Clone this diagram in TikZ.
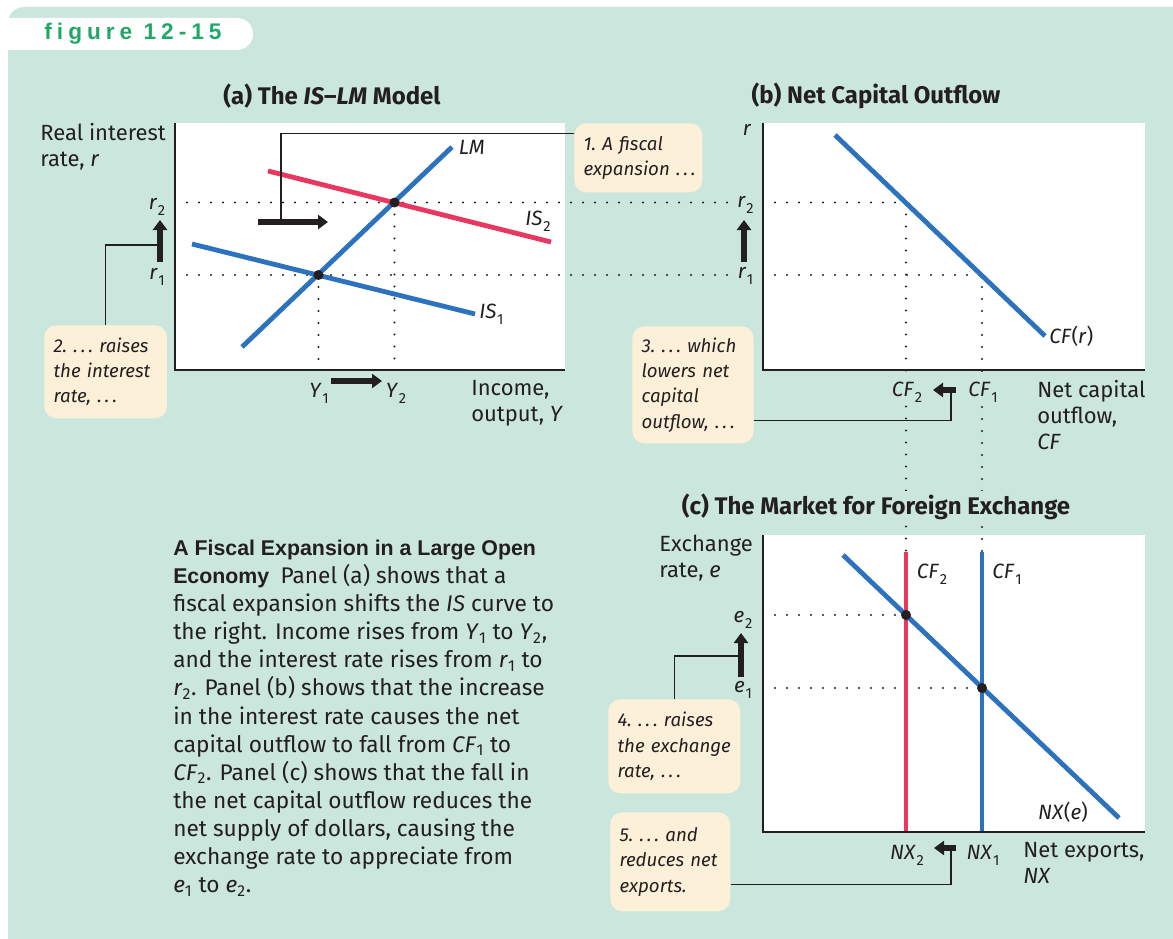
\documentclass[tikz,border=0pt]{standalone}
\usepackage{fontspec}
\setmainfont{Fira Sans}
\newfontfamily\headfont{Liberation Sans}
\newfontfamily\tagfont[LetterSpace=22]{Liberation Sans}
\usetikzlibrary{arrows.meta, positioning}
\definecolor{mintbg}{RGB}{203, 230, 221}
\definecolor{creamfill}{RGB}{253, 240, 217}
\definecolor{curveblue}{RGB}{45, 114, 190}
\definecolor{curvered}{RGB}{232, 55, 96}
\definecolor{taggreen}{RGB}{33, 168, 104}
\definecolor{inkgray}{RGB}{35, 31, 32}
\newcommand{\sublbl}[2]{\textit{#1}\raisebox{-4.5pt}{\kern0.5pt\fontsize{11}{11}\selectfont #2}}

\begin{document}
\begin{tikzpicture}[
        x=0.75pt, y=-0.75pt,
        plotarea/.style={fill=white},
        axisline/.style={draw=inkgray, line width=1.4pt},
        bluecurve/.style={draw=curveblue, line width=3.6pt},
        redcurve/.style={draw=curvered, line width=3.6pt},
        guide/.style={draw=inkgray, line width=1.7pt, line cap=round, dash pattern=on 0pt off 9pt},
        leader/.style={draw=inkgray, line width=0.9pt},
        shiftarrow/.style={draw=inkgray, line width=3.8pt, -{Triangle[length=7.5pt, width=10.5pt]}},
        eqpoint/.style={circle, fill=inkgray, inner sep=0pt, minimum size=7.5pt},
        callout/.style={fill=creamfill, rounded corners=9pt, anchor=north west, inner xsep=7pt, inner ysep=0pt, align=left, text width=#1, font=\fontsize{14}{19}\selectfont\itshape, text=inkgray},
        axislbl/.style={anchor=north west, inner sep=0pt, align=left, font=\fontsize{16.5}{19.5}\selectfont, text=inkgray},
        ticklbl/.style={inner sep=1pt, fill=mintbg, font=\fontsize{15.5}{15}\selectfont, text=inkgray},
        curvelbl/.style={inner sep=0pt, font=\fontsize{15.5}{15}\selectfont, text=inkgray},
        paneltitle/.style={inner sep=2pt, font=\fontsize{18}{20}\selectfont\bfseries, text=inkgray}
    ]
        \useasboundingbox (0,0) rectangle (1173,938);

        % Background and tag
        \fill[white] (0,0) rectangle (1173,938);
        \fill[mintbg, rounded corners=12pt] (8,7) rectangle (1200,970);
        \fill[white, rounded corners=12pt] (-20,18) rectangle (253,50);
        \node[font=\tagfont\bfseries\fontsize{17}{18}\selectfont, text=taggreen] (figtag) at (133,34) {figure 12-15};

        % Plot areas
        \fill[plotarea] (175,123) rectangle (565,370);
        \fill[plotarea] (763,123) rectangle (1145,370);
        \fill[plotarea] (763,535) rectangle (1145,832);

        % Equilibrium points
        \coordinate (lowpt) at (318.5,275);
        \coordinate (highpt) at (394.5,202.5);
        \coordinate (cfhigh) at (906,202.5);
        \coordinate (cflow) at (982,275);
        \coordinate (epttwo) at (906,615);
        \coordinate (eptone) at (982,688);

        % Dotted guides
        \draw[guide] (175,275) -- (cflow);
        \draw[guide] (175,202.5) -- (cfhigh);
        \draw[guide] (lowpt) -- (318.5,370);
        \draw[guide] (highpt) -- (394.5,370);
        \draw[guide] (cfhigh) -- (906,552);
        \draw[guide] (cflow) -- (982,552);
        \draw[guide] (763,615) -- (epttwo);
        \draw[guide] (763,688) -- (eptone);

        % Curves
        \draw[bluecurve] (242,347) -- (452,147) coordinate (lmend);
        \draw[bluecurve] (192,244) -- (475,314) coordinate (isoneend);
        \draw[redcurve] (268,171) -- (551,242) coordinate (istwoend);
        \draw[bluecurve] (835,135) -- (1045,336) coordinate (cfrend);
        \draw[redcurve] (906,552) -- (906,832);
        \draw[bluecurve] (982,552) -- (982,832);
        \draw[bluecurve] (843,555) -- (1119,818) coordinate (nxend);

        % Axes
        \draw[axisline] (175,123) -- (175,370) -- (565,370);
        \draw[axisline] (763,123) -- (763,370) -- (1145,370);
        \draw[axisline] (763,535) -- (763,832) -- (1145,832);

        \node[eqpoint] (dotlow) at (lowpt) {};
        \node[eqpoint] (dothigh) at (highpt) {};
        \node[eqpoint] (dotetwo) at (epttwo) {};
        \node[eqpoint] (doteone) at (eptone) {};

        % Panel titles
        \node[paneltitle] (titlea) at (332,96) {(a) The \textit{IS}--\textit{LM} Model};
        \node[paneltitle] (titleb) at (876,96) {(b) Net Capital Outflow};
        \node[paneltitle, fill=mintbg] (titlec) at (876,507) {(c) The Market for Foreign Exchange};

        % Axis labels
        \node[axislbl] (ylaba) at (40,123) {Real interest\\rate, \textit{r}};
        \node[axislbl] (xlaba) at (471,380) {Income,\\output, \textit{Y}};
        \node[curvelbl] (ylabb) at (747,130) {\textit{r}};
        \node[axislbl] (xlabb) at (1037,380) {Net capital\\outflow,\\\textit{CF}};
        \node[axislbl] (ylabc) at (659,535) {Exchange\\rate, \textit{e}};
        \node[axislbl] (xlabc) at (1023,842) {Net exports,\\\textit{NX}};

        % Tick labels
        \node[ticklbl] (rtwoa) at (157,207) {\sublbl{r}{2}};
        \node[ticklbl] (ronea) at (157,277) {\sublbl{r}{1}};
        \node[ticklbl] (rtwob) at (745.5,205) {\sublbl{r}{2}};
        \node[ticklbl] (roneb) at (745.5,276) {\sublbl{r}{1}};
        \node[ticklbl] (yone) at (319,393) {\sublbl{Y}{1}};
        \node[ticklbl] (ytwo) at (396,393) {\sublbl{Y}{2}};
        \node[ticklbl] (cftwob) at (907,392) {\sublbl{CF}{2}};
        \node[ticklbl] (cfoneb) at (983,392) {\sublbl{CF}{1}};
        \node[ticklbl] (etwo) at (743,620) {\sublbl{e}{2}};
        \node[ticklbl] (eone) at (743,690) {\sublbl{e}{1}};
        \node[ticklbl] (nxtwo) at (907,855) {\sublbl{NX}{2}};
        \node[ticklbl] (nxone) at (983,855) {\sublbl{NX}{1}};

        % Curve labels
        \node[curvelbl, right=5pt of lmend] (lmlab) {\textit{LM}};
        \node[curvelbl, right=3pt of isoneend] (isonelab) {\sublbl{IS}{1}};
        \node[curvelbl] (istwolab) at (538,221) {\sublbl{IS}{2}};
        \node[curvelbl, right=3pt of cfrend] (cfrlab) {\textit{CF}(\textit{r})};
        \node[curvelbl] (nxelab) at (1063,812) {\textit{NX}(\textit{e})};
        \node[curvelbl] (cftwoc) at (932,574) {\sublbl{CF}{2}};
        \node[curvelbl] (cfonec) at (1007,574) {\sublbl{CF}{1}};

        % Callouts
        \node[callout=82pt, minimum height=51.75pt] (noteone) at (574,123) {1.~A~fiscal\\expansion~.\,.\,.};
        \node[callout=78pt, minimum height=69.75pt] (notetwo) at (44,325) {2.~.\,.\,.~raises\\the~interest\\rate,~.\,.\,.};
        \node[callout=77pt, minimum height=87.75pt] (notethree) at (632,326) {3.~.\,.\,.~which\\lowers~net\\capital\\outflow,~.\,.\,.};
        \node[callout=85pt, minimum height=70.5pt] (notefour) at (608,699) {4.~.\,.\,.~raises\\the~exchange\\rate,~.\,.\,.};
        \node[callout=76pt, minimum height=74.25pt] (notefive) at (610,812) {5.~.\,.\,.~and\\reduces~net\\exports.};

        % Leaders
        \coordinate (shiftknee) at (281,222);
        \coordinate (rknee) at (160,245);
        \coordinate (cfknee) at (951,390);
        \coordinate (eknee) at (741,656);
        \coordinate (nxknee) at (951,848);
        \draw[leader] (shiftknee) |- ([yshift=18.4pt]noteone.west);
        \draw[leader] (notetwo.north) |- (rknee);
        \draw[leader] ([yshift=-26.6pt]notethree.east) -| (cfknee);
        \draw[leader] (notefour.north) |- (eknee);
        \draw[leader] ([yshift=-16.9pt]notefive.east) -| (nxknee);

        % Shift arrows
        \draw[shiftarrow] (258,222) -- (328,222);
        \draw[shiftarrow] (160,262) -- (160,220);
        \draw[shiftarrow] (331,381) -- (382,381);
        \draw[shiftarrow] (744,262) -- (744,220);
        \draw[shiftarrow] (956,390) -- (933,390);
        \draw[shiftarrow] (741,677) -- (741,633);
        \draw[shiftarrow] (956,848) -- (934,848);

        % Caption
        \node[anchor=north west, inner sep=0pt, align=left, font=\fontsize{17}{21.1}\selectfont, text=inkgray] (caption) at (173,539.5) {%
            {\headfont\bfseries\fontsize{16}{21.1}\selectfont A Fiscal Expansion in a Large Open}\\
            {\headfont\bfseries\fontsize{16}{21.1}\selectfont Economy}\enspace Panel (a) shows that a\\
            fiscal expansion shifts the \textit{IS} curve to\\
            the right. Income rises from \textit{Y}\textsubscript{1} to \textit{Y}\textsubscript{2},\\
            and the interest rate rises from \textit{r}\textsubscript{1} to\\
            \textit{r}\textsubscript{2}. Panel (b) shows that the increase\\
            in the interest rate causes the net\\
            capital outflow to fall from \textit{CF}\textsubscript{1} to\\
            \textit{CF}\textsubscript{2}. Panel (c) shows that the fall in\\
            the net capital outflow reduces the\\
            net supply of dollars, causing the\\
            exchange rate to appreciate from\\
            \textit{e}\textsubscript{1} to \textit{e}\textsubscript{2}.};
    \end{tikzpicture}
\end{document}
